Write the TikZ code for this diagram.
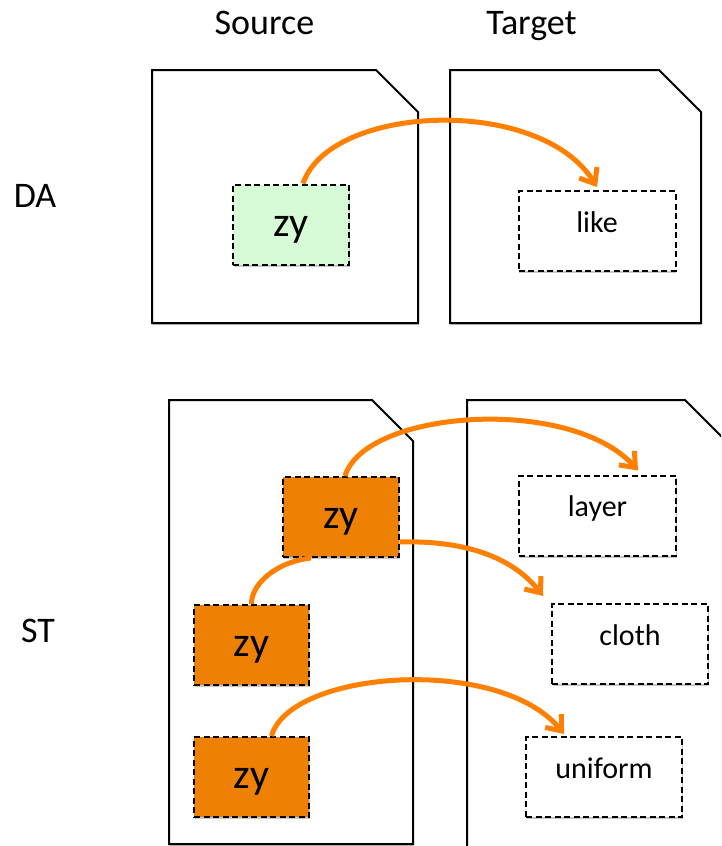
\documentclass[tikz,border=0pt]{standalone}
\usepackage{fontspec}
\setmainfont{Carlito}
\usetikzlibrary{arrows.meta,shadows}
\definecolor{zygreen}{RGB}{214,250,214}
\definecolor{zyorange}{RGB}{238,129,4}
\definecolor{flowc}{RGB}{255,128,0}
\begin{document}
\begin{tikzpicture}[x=1pt,y=-1pt,
  softshadow/.style={drop shadow={shadow xshift=0.6pt,shadow yshift=-2pt,opacity=0.22,fill=black}},
  doc/.style={draw=black,line width=2pt,fill=white,line join=miter,softshadow},
  dbox/.style={draw=black,line width=2pt,dash pattern=on 6pt off 3.5pt,inner sep=0pt,
    minimum height=80pt,softshadow},
  zybox/.style={dbox,minimum width=116pt,font=\fontsize{42}{46}\selectfont,text height=23pt,text depth=0pt},
  wbox/.style={dbox,fill=white,minimum width=157pt,font=\fontsize{30}{34}\selectfont,text height=2pt,text depth=0pt},
  lbl/.style={anchor=base,inner sep=0pt,font=\fontsize{36}{40}\selectfont},
  flow/.style={draw=flowc,line width=5pt,-{Straight Barb[length=13pt,width=21pt]}},
  flowline/.style={draw=flowc,line width=5pt}]
\useasboundingbox (0,0) rectangle (721,846);
\clip (0,0) rectangle (721,846);
% headings
\node[lbl] (hsrc) at (264.5,34) {Source};
\node[lbl] (htgt) at (531.5,34) {Target};
\node[lbl] (hda) at (35,207) {DA};
\node[lbl] (hst) at (38,642.7) {ST};
% documents
\draw[doc] (152,70) -- (376,70) -- (418,112) -- (418,323) -- (152,323) -- cycle;
\draw[doc] (450,70) -- (659,70) -- (701,112) -- (701,323) -- (450,323) -- cycle;
\draw[doc] (169,400) -- (372,400) -- (413,441) -- (413,844) -- (169,844) -- cycle;
\draw[doc] (467,400) -- (685,400) -- (726,441) -- (726,900) -- (467,900) -- cycle;
% boxes
\node[zybox,fill=zygreen] (zyA) at (291,224.5) {zy};
\node[wbox] (like) at (597,231) {like};
\node[zybox,fill=zyorange] (zy1) at (341,517) {zy};
\node[zybox,fill=zyorange,minimum width=115pt] (zy2) at (251.5,645) {zy};
\node[zybox,fill=zyorange,minimum width=115pt] (zy3) at (251.5,777) {zy};
\node[wbox] (layer) at (597.5,515.5) {layer};
\node[wbox,minimum width=156pt] (cloth) at (630,644) {cloth};
\node[wbox,minimum width=156pt] (uniform) at (604,777) {uniform};
% connectors
\draw[flow] ([xshift=12pt]zyA.north) .. controls (330,104) and (540,95) .. ([yshift=3pt]like.north);
\draw[flow] ([xshift=4pt]zy1.north) .. controls (365,410) and (570,395) .. ([xshift=40.5pt,yshift=4pt]layer.north);
\draw[flow] ([yshift=-25pt]zy1.east) .. controls (470,540) and (515,560) .. ([xshift=-8pt,yshift=7pt]cloth.north west);
\draw[flowline] ([xshift=-30pt]zy1.south) .. controls (275,562) and (251,585) .. (zy2.north);
\draw[flow] ([xshift=20pt]zy3.north) .. controls (290,670) and (500,655) .. ([xshift=-40pt,yshift=2pt]uniform.north);
\end{tikzpicture}
\end{document}
